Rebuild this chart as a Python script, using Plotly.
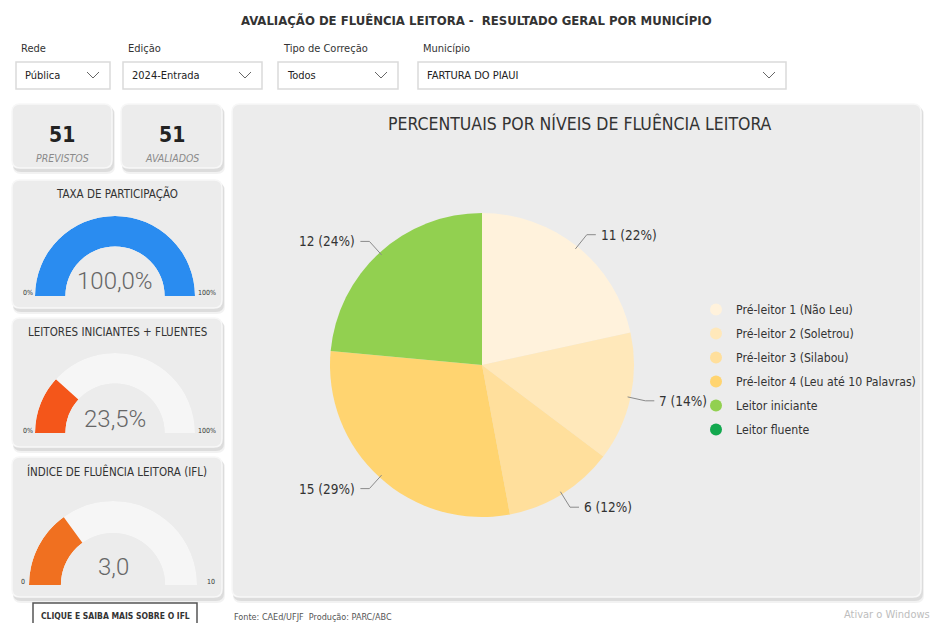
import math
import plotly.graph_objects as go

W, H = 938, 623
OFF = 8  # page body margin of the html page
FW, FH = W - OFF, H - OFF

# ---------------- data ----------------
niveis = ["Pré-leitor 1 (Não Leu)", "Pré-leitor 2 (Soletrou)", "Pré-leitor 3 (Silabou)",
          "Pré-leitor 4 (Leu até 10 Palavras)", "Leitor iniciante", "Leitor fluente"]
quantidades = [11, 7, 6, 15, 12, 0]
cores_niveis = ["#FFF2DC", "#FFE8BA", "#FFDF9C", "#FFD470", "#92D050", "#12A84E"]

previstos = 51
avaliados = 51
taxa_participacao = 100.0
leitores_inic_flu = 23.5
ifl = 3.0
ifl_max = 10

filtros_rotulos = ["Rede", "Edição", "Tipo de Correção", "Município"]
filtros_valores = ["Pública", "2024-Entrada", "Todos", "FARTURA DO PIAUI"]

titulo = "AVALIAÇÃO DE FLUÊNCIA LEITORA -  RESULTADO GERAL POR MUNICÍPIO"
titulo_pizza = "PERCENTUAIS POR NÍVEIS DE FLUÊNCIA LEITORA"
fonte_txt = "Fonte: CAEd/UFJF  Produção: PARC/ABC"

# ---------------- helpers ----------------
FONT = "DejaVu Sans Condensed, Liberation Sans Narrow, Arial Narrow, sans-serif"
NUMFONT = "Roboto, DejaVu Sans, sans-serif"
shapes, ann = [], []
polars = {}
fig = go.Figure()


def px(x):
    return (x - OFF) / FW


def py(y):
    return 1 - (y - OFF) / FH


def rrect(x0, y0, x1, y1, r, fill, line=None, lw=0, layer="below"):
    path = (f"M{x0+r},{y0} L{x1-r},{y0} Q{x1},{y0} {x1},{y0+r} L{x1},{y1-r} "
            f"Q{x1},{y1} {x1-r},{y1} L{x0+r},{y1} Q{x0},{y1} {x0},{y1-r} "
            f"L{x0},{y0+r} Q{x0},{y0} {x0+r},{y0} Z")
    shapes.append(dict(type="path", path=path, xref="x", yref="y", fillcolor=fill,
                       line=dict(color=line or fill, width=lw), layer=layer))


def card(x0, y0, x1, y1, r=8):
    rrect(x0 + 1, y0 + 3, x1 + 3, y1 + 6, r, "rgba(0,0,0,0.05)")
    rrect(x0 + 1, y0 + 2, x1 + 2, y1 + 4, r, "rgba(0,0,0,0.09)")
    rrect(x0, y0, x1, y1, r, "#ececec", "#f7f7f7", 1.5)


def txt(x, y, s, size, color="#333", xanchor="center", weight="normal", style="normal", family=FONT):
    ann.append(dict(x=x, y=y, xref="x", yref="y", text=s, showarrow=False, xanchor=xanchor,
                    yanchor="middle", font=dict(size=size, color=color, family=family,
                                                weight=weight, style=style)))


def fmt(v):
    return f"{v:.1f}".replace(".", ",")


def gauge(idx, cx, cy, r, value, vmax, color, hole=0.62):
    name = "polar" if idx == 1 else f"polar{idx}"
    ang = value / vmax * 180.0
    fig.add_trace(go.Barpolar(r=[1], theta=[90], width=[180], base=0, subplot=name,
                              marker=dict(color="#f6f6f6", line=dict(width=0)),
                              hoverinfo="skip", showlegend=False))
    fig.add_trace(go.Barpolar(r=[1], theta=[ang / 2], width=[ang], base=0, subplot=name,
                              marker=dict(color=color, line=dict(width=0)),
                              hoverinfo="skip", showlegend=False))
    polars[name] = dict(
        domain=dict(x=[px(cx - r), px(cx + r)], y=[py(cy), py(cy - r)]),
        sector=[0, 180], hole=hole, bgcolor="rgba(0,0,0,0)",
        radialaxis=dict(range=[0, 1], visible=False),
        angularaxis=dict(rotation=180, direction="clockwise", visible=False),
    )


# ---------------- header ----------------
txt(476, 20, f"<b>{titulo}</b>", 13, "#333")
filtros_x = [(16, 110), (123, 262), (278, 398), (418, 786)]
for (x0, x1), rot, val in zip(filtros_x, filtros_rotulos, filtros_valores):
    txt(x0 + 3, 48, rot, 11, "#333", xanchor="left")
    shapes.append(dict(type="rect", x0=x0, x1=x1, y0=62, y1=89, xref="x", yref="y",
                       fillcolor="white", line=dict(color="#dadada", width=1.5), layer="below"))
    txt(x0 + 7, 75.5, val, 11, "#222", xanchor="left")
    c = x1 - 17
    shapes.append(dict(type="path", path=f"M{c-6},{72} L{c},{78} L{c+6},{72}", xref="x", yref="y",
                       line=dict(color="#666", width=1), layer="above"))

# ---------------- KPI cards ----------------
card(12, 104, 112, 168)
card(121, 104, 222, 168)
txt(62, 135, f"<b>{previstos}</b>", 21, "#222")
txt(62, 158, "PREVISTOS", 10.5, "#8a8a8a", style="italic")
txt(172, 135, f"<b>{avaliados}</b>", 21, "#222")
txt(172, 158, "AVALIADOS", 10.5, "#8a8a8a", style="italic")

# gauge cards
card(12, 180, 222, 308)
card(12, 318, 222, 447)
card(12, 457, 222, 597)

txt(117, 193, "TAXA DE PARTICIPAÇÃO", 11.5, "#333")
gauge(1, 115, 296, 80, taxa_participacao, 100, "#2A8CF0")
txt(115, 281, fmt(taxa_participacao) + "%", 24, "#666", family=NUMFONT, weight=300)
txt(28, 293, "0%", 7, "#333")
txt(207, 293, "100%", 7, "#333")

txt(117, 332, "LEITORES INICIANTES + FLUENTES", 11.5, "#333")
gauge(2, 115, 433, 80, leitores_inic_flu, 100, "#F4561A")
txt(115, 419, fmt(leitores_inic_flu) + "%", 24, "#666", family=NUMFONT, weight=300)
txt(28, 431, "0%", 7, "#333")
txt(207, 431, "100%", 7, "#333")

txt(117, 471, "ÍNDICE DE FLUÊNCIA LEITORA (IFL)", 11.5, "#333")
gauge(3, 113, 585, 84, ifl, ifl_max, "#F07020")
txt(113, 567, fmt(ifl), 24, "#666", family=NUMFONT, weight=300)
txt(23, 582, "0", 7, "#333")
txt(211, 582, str(ifl_max), 7, "#333")

# button
shapes.append(dict(type="rect", x0=33, x1=197, y0=603, y1=632, xref="x", yref="y",
                   fillcolor="white", line=dict(color="#555", width=1.5), layer="below"))
txt(115, 616, "<b>CLIQUE E SAIBA MAIS SOBRE O IFL</b>", 8.5, "#333")

# ---------------- main pie card ----------------
card(232, 104, 921, 597)
txt(580, 123, titulo_pizza, 17.5, "#333")

cx, cy, R = 482, 365, 152
fig.add_trace(go.Pie(labels=niveis, values=quantidades, marker=dict(colors=cores_niveis),
                     sort=False, direction="clockwise", rotation=0, textinfo="none",
                     hoverinfo="label+value+percent", showlegend=False,
                     domain=dict(x=[px(cx - R), px(cx + R)], y=[py(cy + R), py(cy - R)])))

total = sum(quantidades)
acc = 0
for v in quantidades:
    if v == 0:
        continue
    mid = (acc + v / 2) / total * 2 * math.pi
    acc += v
    s, c = math.sin(mid), math.cos(mid)
    p0 = (cx + (R - 3) * s, cy - (R - 3) * c)
    p1 = (cx + R * 1.1 * s, cy - R * 1.1 * c)
    side = 1 if s >= 0 else -1
    p2 = (p1[0] + side * 9, p1[1])
    shapes.append(dict(type="path", path=f"M{p0[0]:.1f},{p0[1]:.1f} L{p1[0]:.1f},{p1[1]:.1f} L{p2[0]:.1f},{p2[1]:.1f}",
                       xref="x", yref="y", line=dict(color="#8a8a8a", width=1), layer="above"))
    txt(p2[0] + side * 3, p2[1], f"{v} ({round(100 * v / total)}%)", 13.5, "#333",
        xanchor="left" if side > 0 else "right")

# legend (circle markers)
for i, (nome, cor) in enumerate(zip(niveis, cores_niveis)):
    fig.add_trace(go.Scatter(x=[None], y=[None], mode="markers", name=nome,
                             marker=dict(size=8, color=cor, symbol="circle"),
                             legendgroup=f"g{i}", showlegend=True, hoverinfo="skip"))

# footer
txt(232, 617, fonte_txt, 9, "#555", xanchor="left")
txt(842, 614, "Ativar o Windows", 11, "#bdbdbd", xanchor="left")

fig.update_layout(
    width=FW, height=FH, autosize=False,
    margin=dict(l=0, r=0, t=0, b=0),
    paper_bgcolor="white", plot_bgcolor="white",
    xaxis=dict(range=[OFF, W], visible=False, fixedrange=True, domain=[0, 1]),
    yaxis=dict(range=[H, OFF], visible=False, fixedrange=True, domain=[0, 1]),
    shapes=shapes, annotations=ann,
    showlegend=True,
    legend=dict(x=px(696), y=py(295), xanchor="left", yanchor="top",
                bgcolor="rgba(0,0,0,0)", font=dict(size=12.2, color="#333", family=FONT),
                tracegroupgap=5, itemsizing="constant"),
    font=dict(family=FONT),
    **polars,
)

fig.write_html("out.html")
